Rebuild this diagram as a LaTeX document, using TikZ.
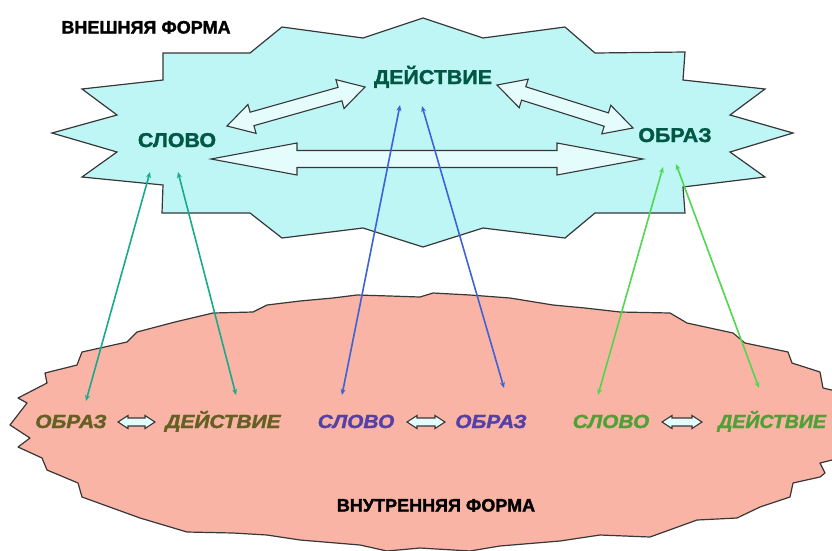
\documentclass[tikz,border=0pt]{standalone}
\usepackage{fontspec}
\setmainfont{Liberation Sans}
\newfontfamily\heavyfont[UprightFont={* Bold}, ItalicFont={* Bold Italic}, FakeBold=1.6]{Liberation Sans}
\usetikzlibrary{calc,arrows.meta}

\definecolor{starfill}{RGB}{190,246,246}
\definecolor{pinkfill}{RGB}{250,180,165}
\definecolor{outline}{RGB}{55,55,55}
\definecolor{arrowfill}{RGB}{228,252,252}
\definecolor{topword}{RGB}{0,88,68}
\definecolor{tealline}{RGB}{25,170,140}
\definecolor{blueline}{RGB}{60,100,215}
\definecolor{greenline}{RGB}{80,215,80}
\definecolor{oliveword}{RGB}{100,95,35}
\definecolor{violetword}{RGB}{85,65,165}
\definecolor{leafword}{RGB}{80,160,55}

% double-headed block arrow between two points:
% #1 prefix, #2 tip A, #3 tip B, #4 head length, #5 head half width, #6 shaft half width
\newcommand\fatarrow[6]{%
  \coordinate (#1-ha) at ($(#2)!#4!(#3)$);
  \coordinate (#1-hb) at ($(#3)!#4!(#2)$);
  \draw[blockarrow] (#2)
    -- ($(#1-ha)!#5!90:(#3)$) -- ($(#1-ha)!#6!90:(#3)$)
    -- ($(#1-hb)!#6!-90:(#2)$) -- ($(#1-hb)!#5!-90:(#2)$)
    -- (#3)
    -- ($(#1-hb)!#5!90:(#2)$) -- ($(#1-hb)!#6!90:(#2)$)
    -- ($(#1-ha)!#6!-90:(#3)$) -- ($(#1-ha)!#5!-90:(#3)$)
    -- cycle;}

\tikzset{
  blockarrow/.style={draw=outline, fill=arrowfill, line width=1.1pt, line join=miter},
  topword/.style={anchor=base, inner sep=0pt, text=topword, font=\fontsize{20}{20}\selectfont\heavyfont},
  formlabel/.style={anchor=base, inner sep=0pt, text=black, font=\fontsize{18}{18}\selectfont\heavyfont},
  lowword/.style={anchor=base, inner sep=0pt, font=\fontsize{19}{19}\selectfont\heavyfont\itshape},
  link/.style={line width=1.6pt, {Stealth[length=6pt,width=5pt]}-{Stealth[length=6pt,width=5pt]}},
}

\begin{document}
\begin{tikzpicture}[x=1pt,y=-1pt]
\useasboundingbox (0,0) rectangle (832,550);
\clip (0,0) rectangle (832,550);

% inner form: jagged salmon plate
\draw[fill=pinkfill, draw=outline, line width=1.2pt, line join=round]
  (82,352) -- (127,342) -- (137,332) -- (175,322) -- (213,313) -- (253,312)
  -- (267,305) -- (300,301) -- (333,298) -- (357,295) -- (390,296) -- (420,297)
  -- (433,293) -- (470,295) -- (510,298) -- (553,305) -- (585,308) -- (620,312)
  -- (670,313) -- (687,323) -- (710,328) -- (733,333) -- (745,343) -- (788,352)
  -- (792,363) -- (820,372) -- (823,388) -- (840,392)
  -- (840,458) -- (820,463) -- (825,473) -- (820,477) -- (793,483) -- (790,497)
  -- (760,507) -- (737,518) -- (697,520) -- (650,537) -- (600,535) -- (560,541)
  -- (500,546) -- (470,551) -- (420,548) -- (387,551) -- (360,545) -- (300,540)
  -- (267,535) -- (233,533) -- (187,532) -- (140,518) -- (82,497) -- (78,483)
  -- (47,470) -- (42,458) -- (18,447) -- (30,438) -- (10,425) -- (27,403)
  -- (18,398) -- (47,383) -- (45,373) -- (77,365) -- cycle;

% outer form: cyan burst
\draw[fill=starfill, draw=outline, line width=1.2pt, line join=miter]
  (52,133) -- (117,115) -- (82,89) -- (163,80) -- (163,53) -- (250,53)
  -- (282,27) -- (363,38) -- (423,18) -- (483,38) -- (565,27) -- (595,53)
  -- (685,52) -- (683,80) -- (765,89) -- (730,115) -- (793,133) -- (730,152)
  -- (765,177) -- (683,187) -- (685,213) -- (595,213) -- (565,238) -- (483,228)
  -- (423,247) -- (363,228) -- (282,238) -- (250,213) -- (162,213) -- (163,185)
  -- (82,177) -- (117,152) -- cycle;

% labels of the two forms
\node[formlabel] (outer) at (146,33.5) {ВНЕШНЯЯ ФОРМА};
\node[formlabel] (inner) at (436,511.5) {ВНУТРЕННЯЯ ФОРМА};

% words of the outer form
\node[topword] (tslovo)  at (177,147) {\scalebox{1.07}[1]{СЛОВО}};
\node[topword] (tdeist)  at (433,84)  {\scalebox{1.07}[1]{ДЕЙСТВИЕ}};
\node[topword] (tobraz)  at (675,142) {\scalebox{1.07}[1]{ОБРАЗ}};

% block arrows between the outer words
\coordinate (sd1) at (227,126);  \coordinate (sd2) at (365,87);
\coordinate (do1) at (497,85);   \coordinate (do2) at (633,128);
\coordinate (so1) at (211,159);  \coordinate (so2) at (643,159);
\fatarrow{sd}{sd1}{sd2}{26pt}{15pt}{7pt}
\fatarrow{do}{do1}{do2}{28pt}{15pt}{7pt}
\fatarrow{so}{so1}{so2}{86pt}{16pt}{8.5pt}

% words of the inner form
\node[lowword, text=oliveword]  (bobraz1) at (71,428)  {\scalebox{1.1}[1]{ОБРАЗ}};
\node[lowword, text=oliveword]  (bdeist1) at (223,428) {\scalebox{1.1}[1]{ДЕЙСТВИЕ}};
\node[lowword, text=violetword] (bslovo2) at (356,428) {\scalebox{1.1}[1]{СЛОВО}};
\node[lowword, text=violetword] (bobraz2) at (491,428) {\scalebox{1.1}[1]{ОБРАЗ}};
\node[lowword, text=leafword]   (bslovo3) at (611,428) {\scalebox{1.1}[1]{СЛОВО}};
\node[lowword, text=leafword, anchor=base west] (bdeist3) at (718,428) {\scalebox{1.03}[1]{ДЕЙСТВИЕ}};

% small block arrows between inner word pairs
\coordinate (p1a) at (118,422); \coordinate (p1b) at (155,422);
\coordinate (p2a) at (407,422); \coordinate (p2b) at (445,422);
\coordinate (p3a) at (662,422); \coordinate (p3b) at (702,422);
\fatarrow{p1}{p1a}{p1b}{10pt}{6.5pt}{4pt}
\fatarrow{p2}{p2a}{p2b}{10pt}{6.5pt}{4pt}
\fatarrow{p3}{p3a}{p3b}{10pt}{6.5pt}{4pt}

% links from the outer words down to the inner pairs
\coordinate (ts1) at (150,172); \coordinate (ts2) at (178,172);
\coordinate (bs1) at (86,401);  \coordinate (bs2) at (236,395);
\coordinate (td1) at (400,105); \coordinate (td2) at (422,106);
\coordinate (bd1) at (342,395); \coordinate (bd2) at (504,388);
\coordinate (to1) at (663,167); \coordinate (to2) at (676,164);
\coordinate (bo1) at (598,395); \coordinate (bo2) at (759,388);
\draw[link, tealline]  (ts1) -- (bs1);
\draw[link, tealline]  (ts2) -- (bs2);
\draw[link, blueline]  (td1) -- (bd1);
\draw[link, blueline]  (td2) -- (bd2);
\draw[link, greenline] (to1) -- (bo1);
\draw[link, greenline] (to2) -- (bo2);
\end{tikzpicture}
\end{document}
